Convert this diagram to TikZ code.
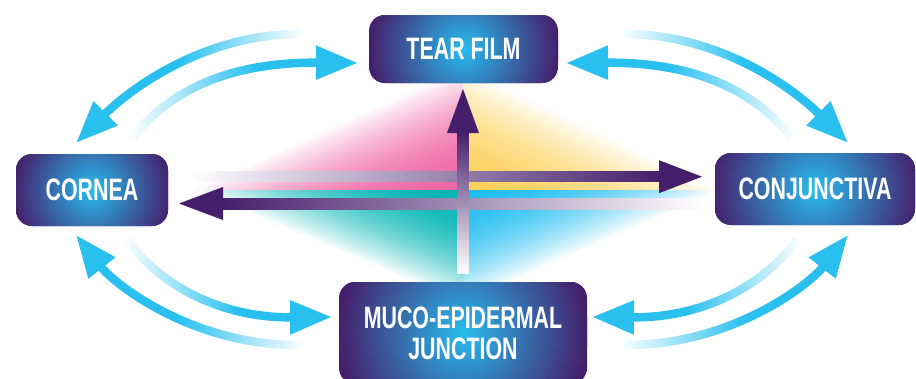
\documentclass[tikz,border=0pt]{standalone}
\usepackage{fontspec}
\newfontfamily\labelfont[FakeStretch=0.69]{Liberation Sans}
\usetikzlibrary{arrows.meta,fadings,calc}
\definecolor{deep}{RGB}{69,31,107}
\definecolor{glowblue}{RGB}{40,188,238}
\definecolor{arccyan}{RGB}{41,192,240}
\definecolor{qpink}{RGB}{238,102,164}
\definecolor{qyellow}{RGB}{253,209,92}
\definecolor{qteal}{RGB}{0,180,180}
\definecolor{qblue}{RGB}{30,188,240}
\pgfdeclarehorizontalshading{fadeLsh}{100bp}{color(0bp)=(black); color(25bp)=(black); color(52bp)=(white); color(100bp)=(white)}
\pgfdeclarefading{fadeL}{\pgfuseshading{fadeLsh}}
\pgfdeclarehorizontalshading{fadeRsh}{100bp}{color(0bp)=(white); color(48bp)=(white); color(75bp)=(black); color(100bp)=(black)}
\pgfdeclarefading{fadeR}{\pgfuseshading{fadeRsh}}
\tikzset{
  box/.style={fill=deep, rounded corners=16pt, inner sep=0pt, text=white, align=center,
    font=\labelfont\bfseries\fontsize{31}{31}\selectfont,
    path picture={\shade[inner color=glowblue, outer color=deep] (path picture bounding box.center) circle (#1);}},
  arcarrow/.style={draw=arccyan, line width=8.5pt, -{Triangle[length=42pt,width=32pt]}},
  deepfill/.style={fill=deep}
}
\newcommand\quadglow[3]{% vertex1, vertex2, colour
  \foreach \i in {40,39,...,1} {
    \pgfmathsetmacro\tt{\i/40}
    \pgfmathtruncatemacro\pp{100*(1-\tt*\tt)}
    \fill[#3!\pp!white] (ctr) -- ($(ctr)!\tt!(#1)$) -- ($(ctr)!\tt!(#2)$) -- cycle;
  }}
\begin{document}
\begin{tikzpicture}[x=1pt,y=-1pt]
\useasboundingbox (0,0) rectangle (916,378);
\clip (0,0) rectangle (916,378);
% quadrant glow
\coordinate (ctr) at (463,190);
\coordinate (qtop) at (463,65);
\coordinate (qbot) at (463,305);
\coordinate (qleft) at (188,190);
\coordinate (qright) at (725,190);
\quadglow{qtop}{qleft}{qpink}
\quadglow{qtop}{qright}{qyellow}
\quadglow{qbot}{qleft}{qteal}
\quadglow{qbot}{qright}{qblue}
% horizontal arrows
\coordinate (hu0) at (190,176.7);
\coordinate (hu1) at (659,176.7);
\coordinate (hu2) at (702,176.7);
\shade[left color=white, right color=deep] ($(hu0)+(0,-5)$) rectangle ($(hu1)+(0.5,5)$);
\fill[deepfill] ($(hu1)+(0,-16.5)$) -- (hu2) -- ($(hu1)+(0,16.5)$) -- cycle;
\coordinate (hl0) at (703,203.5);
\coordinate (hl1) at (223,203.5);
\coordinate (hl2) at (179,203.5);
\shade[left color=deep, right color=white] ($(hl1)+(-0.5,-5.5)$) rectangle ($(hl0)+(0,5.5)$);
\fill[deepfill] ($(hl1)+(0,-16.5)$) -- (hl2) -- ($(hl1)+(0,16.5)$) -- cycle;
% vertical arrow
\coordinate (v0) at (463,273);
\coordinate (v1) at (463,133);
\coordinate (v2) at (463,89);
\shade[top color=deep, bottom color=white] ($(v1)+(-5.3,-0.5)$) rectangle ($(v0)+(5.3,0)$);
\fill[deepfill] ($(v1)+(-16,0)$) -- (v2) -- ($(v1)+(16,0)$) -- cycle;
% boxes
\node[box=95pt, minimum width=189, minimum height=68] (tear) at (463.5,49) {TEAR FILM};
\node[box=80pt, minimum width=152, minimum height=72] (cornea) at (92,190) {CORNEA};
\node[box=105pt, minimum width=200, minimum height=72] (conj) at (815,189) {CONJUNCTIVA};
\node[box=125pt, minimum width=248, minimum height=102] (muco) at (463,333) {MUCO-EPIDERMAL\\JUNCTION};
% cyan arcs
\coordinate (a1s) at (300,34);  \coordinate (a1e) at (76,143);
\coordinate (a2s) at (133,137); \coordinate (a2e) at (358,63);
\coordinate (b1s) at (791,137); \coordinate (b1e) at (566,63);
\coordinate (b2s) at (624,34);  \coordinate (b2e) at (848,143);
\coordinate (c1s) at (300,345); \coordinate (c1e) at (76,235);
\coordinate (c2s) at (127,240); \coordinate (c2e) at (332,317);
\coordinate (d1s) at (797,240); \coordinate (d1e) at (592,317);
\coordinate (d2s) at (624,345); \coordinate (d2e) at (848,235);
\draw[arcarrow, path fading=fadeR] (a1s) .. controls +(-95,0) and +(55,-55) .. (a1e);
\draw[arcarrow, path fading=fadeL] (a2s) .. controls +(37,-47) and +(-128,-1) .. (a2e);
\draw[arcarrow, path fading=fadeR] (b1s) .. controls +(-37,-47) and +(128,-1) .. (b1e);
\draw[arcarrow, path fading=fadeL] (b2s) .. controls +(95,0) and +(-55,-55) .. (b2e);
\draw[arcarrow, path fading=fadeR] (c1s) .. controls +(-105,1) and +(40,51) .. (c1e);
\draw[arcarrow, path fading=fadeL] (c2s) .. controls +(33,45) and +(-112,1) .. (c2e);
\draw[arcarrow, path fading=fadeR] (d1s) .. controls +(-33,45) and +(112,1) .. (d1e);
\draw[arcarrow, path fading=fadeL] (d2s) .. controls +(105,1) and +(-40,51) .. (d2e);
\end{tikzpicture}
\end{document}
